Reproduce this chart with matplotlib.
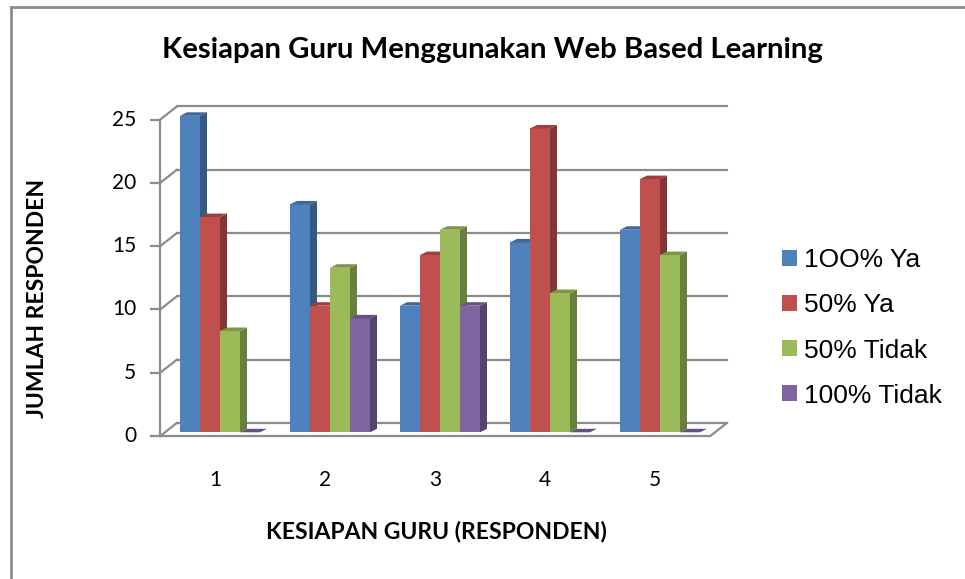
import matplotlib
matplotlib.use("Agg")
import matplotlib.pyplot as plt
from matplotlib.patches import Polygon, Patch
from matplotlib.colors import to_rgb

# data
categories = ["1", "2", "3", "4", "5"]
series_names = ["1OO% Ya", "50% Ya", "50% Tidak", "100% Tidak"]
ya_100 = [25, 18, 10, 15, 16]
ya_50 = [17, 10, 14, 24, 20]
tidak_50 = [8, 13, 16, 11, 14]
tidak_100 = [0, 9, 10, 0, 0]
y_ticks = [0, 5, 10, 15, 20, 25]

series = [ya_100, ya_50, tidak_50, tidak_100]
colors = ["#4F81BD", "#C0504D", "#9BBB59", "#8064A2"]

W, H = 965, 579
fig = plt.figure(figsize=(W / 100, H / 100), dpi=100)
ax = fig.add_axes([0, 0, 1, 1])

# data units: 1 category = 110 px, 1 respondent = 12.66 px
px_x, px_y = 110.0, 12.66
ax.set_xlim((0 - 220) / px_x, (W - 220) / px_x)
ax.set_ylim((432.3 - H) / px_y, 432.3 / px_y)
ax.axis("off")

def fx(px):
    return px / W

def fy(py):
    return 1 - py / H

# pseudo 3d offsets (in data units)
front = (-4.7 / px_x, -3.7 / px_y)
back = (11.8 / px_x, 9.3 / px_y)
depth = (7.0 / px_x, 3.5 / px_y)

grid_c = "#8C8C8C"
lw = 1.6
x0, x1 = -0.5, len(categories) - 0.5
ymax = y_ticks[-1]

# front axis, ticks, side wall diagonals and back wall gridlines
ax.plot([x0 + front[0]] * 2, [front[1], ymax + front[1]], color=grid_c, lw=lw, zorder=1)
for v in y_ticks:
    ax.plot([x0 + front[0] - 9 / px_x, x0 + front[0]], [v + front[1]] * 2, color=grid_c, lw=lw, zorder=1)
    ax.plot([x0 + front[0], x0 + back[0]], [v + front[1], v + back[1]], color=grid_c, lw=lw, zorder=1)
    ax.plot([x0 + back[0], x1 + back[0]], [v + back[1]] * 2, color=grid_c, lw=lw, zorder=1)
    ax.text(x0 + front[0] - 24 / px_x, v + front[1], str(v), ha="right", va="center",
            fontsize=15, family="Lato", color="black")

# floor outline
ax.plot([x0 + front[0], x1 + front[0], x1 + back[0]],
        [front[1], front[1], back[1]], color=grid_c, lw=lw, zorder=1)

# category labels
for i, c in enumerate(categories):
    ax.text(i + front[0], front[1] - 44 / px_y, c, ha="center", va="center",
            fontsize=15, family="Lato", color="black")

def shade(c, f):
    r, g, b = to_rgb(c)
    return (r * f, g * f, b * f)

bw = 20 / px_x
z = 2
for j, vals in enumerate(series):
    xs = [i + (j - 1.5) * bw for i in range(len(categories))]
    ax.bar(xs, vals, width=bw, color=colors[j], zorder=z, linewidth=0)
    for x, v in zip(xs, vals):
        r = x + bw / 2
        l = x - bw / 2
        side = Polygon([(r, 0), (r + depth[0], depth[1]), (r + depth[0], v + depth[1]), (r, v)],
                       closed=True, facecolor=shade(colors[j], 0.68), edgecolor="none", zorder=z)
        top = Polygon([(l, v), (r, v), (r + depth[0], v + depth[1]), (l + depth[0], v + depth[1])],
                      closed=True, facecolor=shade(colors[j], 0.8), edgecolor="none", zorder=z + 0.5)
        ax.add_patch(side)
        ax.add_patch(top)
    z += 1

# texts
fig.text(fx(493), fy(50), "Kesiapan Guru Menggunakan Web Based Learning",
         ha="center", va="center", fontsize=21.2, fontweight="bold", family="Lato")
fig.text(fx(436), fy(532), "KESIAPAN GURU (RESPONDEN)",
         ha="center", va="center", fontsize=16.5, fontweight="bold", family="Lato")
fig.text(fx(38), fy(298), "JUMLAH RESPONDEN", rotation=90,
         ha="center", va="center", fontsize=16.5, fontweight="bold", family="Lato")

handles = [Patch(facecolor=c, edgecolor="none") for c in colors]
fig.legend(handles, series_names, loc="center left", bbox_to_anchor=(fx(782), fy(328)),
           frameon=False, prop={"family": "Liberation Sans", "size": 19},
           handlelength=0.55, handleheight=0.55, handletextpad=0.3, labelspacing=0.8,
           borderpad=0, borderaxespad=0)

# outer border (top and left only visible)
fig.add_artist(plt.Line2D([fx(10.5), fx(10.5)], [fy(H + 5), fy(6.5)], color="#8C8C8C", lw=2))
fig.add_artist(plt.Line2D([fx(10.5), fx(W + 5)], [fy(6.5), fy(6.5)], color="#8C8C8C", lw=2))

fig.savefig("out.png", dpi=100)
